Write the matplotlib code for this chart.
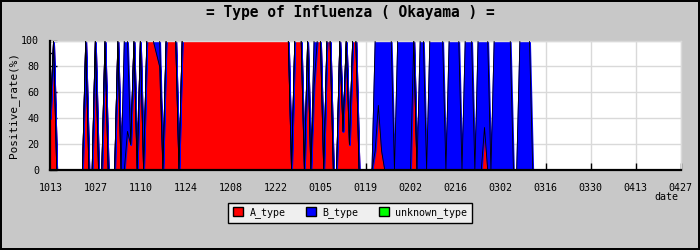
import numpy as np
import matplotlib
matplotlib.use("Agg")
import matplotlib.pyplot as plt
from matplotlib.patches import Patch
from matplotlib.ticker import MultipleLocator

# Colours
BG = "#c8c8c8"
GRID = "#d9d9d9"
LEGEND_BG = "#efefef"
RED = "#ff0000"
BLUE = "#0000ff"
GREEN = "#00ff00"
MONO = "DejaVu Sans Mono"

# Daily positive rate (%) from 10/13, one row = 14 days
A_type = [
    40, 100, 0, 0, 0, 0, 0, 0, 0, 0, 0, 100, 0, 0,
    100, 0, 0, 100, 0, 0, 0, 100, 0, 0, 30, 20, 100, 0,
    100, 0, 100, 100, 100, 90, 80, 0, 100, 100, 100, 100, 0, 100,
    100, 100, 100, 100, 100, 100, 100, 100, 100, 100, 100, 100, 100, 100,
    100, 100, 100, 100, 100, 100, 100, 100, 100, 100, 100, 100, 100, 100,
    100, 100, 100, 100, 100, 0, 100, 100, 100, 0, 100, 0, 65, 100,
    100, 0, 100, 100, 0, 0, 100, 30, 100, 20, 100, 100, 0, 0,
    0, 0, 0, 15, 50, 15, 0, 0, 0, 0, 0, 0, 0, 0,
    0, 100, 0, 0, 0, 0, 0, 0, 0, 0, 0, 0, 0, 0,
    0, 0, 0, 0, 0, 0, 0, 0, 0, 33, 0, 0, 0, 0,
    0, 0, 0, 0, 0, 0, 0, 0, 0, 0, 0, 0, 0, 0,
]
B_type = [
    0, 0, 0, 0, 0, 0, 0, 0, 0, 0, 0, 0, 0, 0,
    0, 0, 0, 0, 0, 0, 0, 0, 0, 100, 70, 0, 0, 0,
    0, 0, 0, 0, 0, 10, 20, 0, 0, 0, 0, 0, 0, 0,
    0, 0, 0, 0, 0, 0, 0, 0, 0, 0, 0, 0, 0, 0,
    0, 0, 0, 0, 0, 0, 0, 0, 0, 0, 0, 0, 0, 0,
    0, 0, 0, 0, 0, 0, 0, 0, 0, 0, 0, 0, 35, 0,
    0, 0, 0, 0, 0, 0, 0, 0, 0, 0, 0, 0, 0, 0,
    0, 0, 0, 85, 50, 85, 100, 100, 100, 0, 100, 100, 100, 100,
    100, 0, 0, 100, 100, 0, 100, 100, 100, 100, 100, 0, 100, 100,
    100, 100, 0, 100, 100, 100, 0, 100, 100, 67, 100, 0, 100, 100,
    100, 100, 100, 100, 0, 0, 100, 100, 100, 100, 0, 0, 0, 0,
]
unknown_type = np.zeros(len(A_type))

date_labels = ["1013", "1027", "1110", "1124", "1208", "1222", "0105", "0119",
               "0202", "0216", "0302", "0316", "0330", "0413", "0427"]

days = np.arange(len(A_type))
tick_pos = np.arange(len(date_labels)) * 14

fig = plt.figure(figsize=(7, 2.5), dpi=100)
fig.patch.set_facecolor(BG)
fig.patch.set_edgecolor("black")
fig.patch.set_linewidth(1.5)

ax = fig.add_axes([50.3 / 700, 79.7 / 250, 630.4 / 700, 129.8 / 250])
ax.set_facecolor("white")
ax.set_axisbelow(True)
ax.grid(True, color=GRID, linewidth=1.0)

# fills slightly grown by their own edge, then thin black outlines on top
layers = ax.stackplot(days, A_type, B_type, unknown_type,
                      colors=[RED, BLUE, GREEN], edgecolor="face",
                      linewidth=1.3, antialiased=False, zorder=2)
layers[2].set_linewidth(0)
a_top = np.array(A_type, dtype=float)
b_top = a_top + np.array(B_type)
for top in (a_top, b_top):
    ax.plot(days, top, color="black", linewidth=0.6, zorder=3)

ax.set_xlim(0, tick_pos[-1])
ax.set_ylim(0, 100)
ax.set_xticks(tick_pos)
ax.set_xticklabels(date_labels, family=MONO, fontsize=7.2)
ax.set_yticks(np.arange(0, 101, 20))
ax.yaxis.set_minor_locator(MultipleLocator(10))
for lab in ax.get_yticklabels():
    lab.set_family(MONO)
    lab.set_fontsize(7.2)
ax.tick_params(axis="y", which="major", direction="in", length=5, width=1, pad=8)
ax.tick_params(axis="y", which="minor", direction="in", length=3, width=1)
ax.tick_params(axis="x", direction="in", length=5, width=1, pad=9)

for side in ("left", "bottom"):
    ax.spines[side].set_color("black")
    ax.spines[side].set_linewidth(1.6)
    ax.spines[side].set_zorder(5)
for side in ("top", "right"):
    ax.spines[side].set_color(GRID)
    ax.spines[side].set_linewidth(1.0)

ax.set_ylabel("Positive_rate(%)", family=MONO, fontsize=7.9)
ax.yaxis.set_label_coords(-0.049, 0.5)
ax.set_xlabel("date", family=MONO, fontsize=7.2)
ax.xaxis.set_label_coords(0.978, -0.165)

fig.text(0.5, 0.95, "= Type of Influenza ( Okayama ) =", ha="center", va="center",
         family=MONO, fontweight="bold", fontsize=10.5)

handles = [Patch(facecolor=c, edgecolor="black", linewidth=1) for c in (RED, BLUE, GREEN)]
leg = fig.legend(handles, ["A_type", "B_type", "unknown_type"], ncol=3,
                 loc="center", bbox_to_anchor=(0.5, 1 - 212.8 / 250),
                 prop={"family": MONO, "size": 7.2}, frameon=True, fancybox=False,
                 edgecolor="black", facecolor=LEGEND_BG, framealpha=1,
                 handlelength=1.0, handleheight=1.0, handletextpad=0.7,
                 columnspacing=2.0, borderpad=0.45)
leg.get_frame().set_linewidth(1.0)

fig.savefig("out.png", dpi=100, facecolor=fig.get_facecolor(),
            edgecolor=fig.get_edgecolor())
